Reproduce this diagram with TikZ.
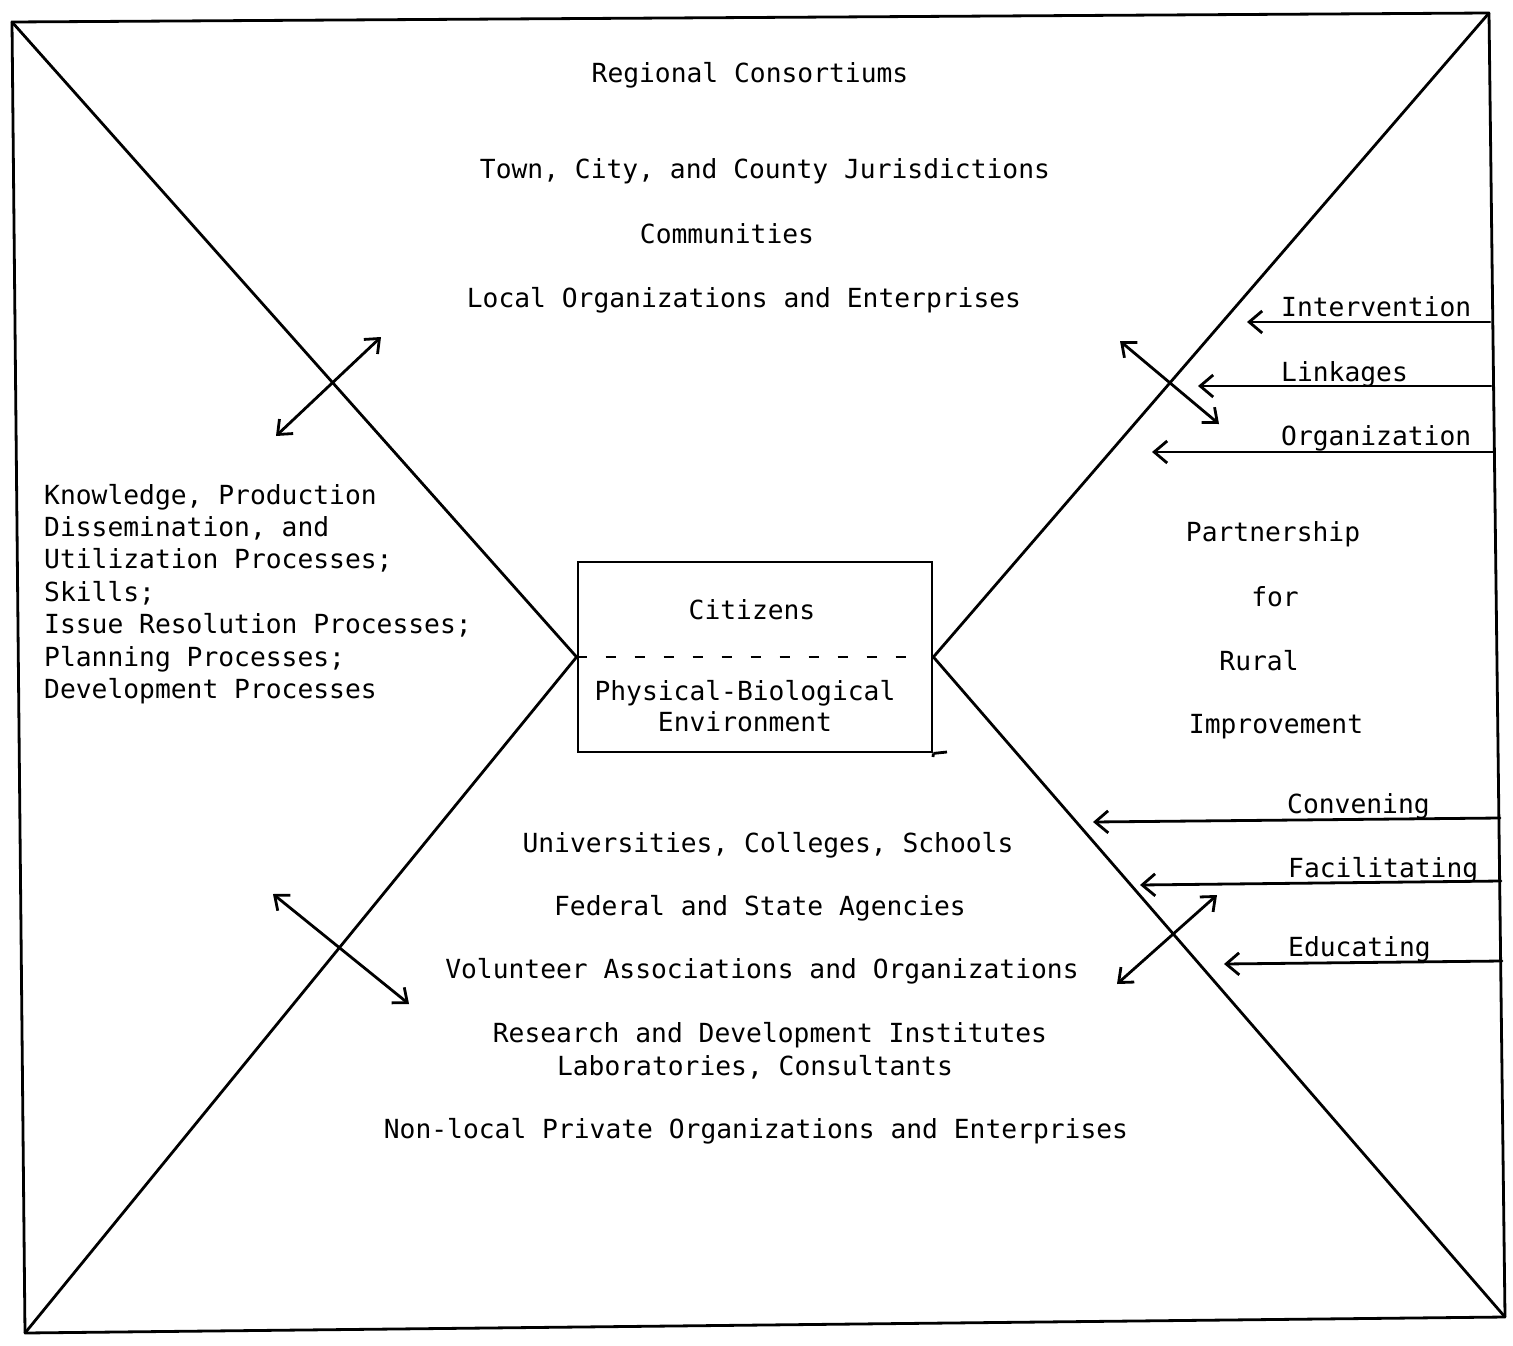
\documentclass[tikz,border=0pt]{standalone}
\usepackage{fontspec}
\newfontfamily\typew{DejaVu Sans Mono}
\usetikzlibrary{arrows.meta}
\begin{document}
\begin{tikzpicture}[x=1pt,y=-1pt,
  ln/.style={line width=2.8pt,line cap=round,line join=round},
  lbl/.style={font=\typew\fontsize{26.3}{32}\selectfont,inner sep=0pt,anchor=base},
  lblw/.style={lbl,anchor=base west},
  barb/.style={ln,-{Straight Barb[length=13pt,width=22pt]}},
  dbl/.style={ln,{Straight Barb[length=12pt,width=20pt]}-{Straight Barb[length=12pt,width=20pt]}}]
\useasboundingbox (0,0) rectangle (1513,1346);
% frame corners
\coordinate (TL) at (12,22);
\coordinate (TR) at (1489,13);
\coordinate (BR) at (1505,1317);
\coordinate (BL) at (25,1333);
\draw[ln] (TL) -- (TR) -- (BR) -- (BL) -- cycle;
% central box
\node[draw,line width=2.8pt,minimum width=354pt,minimum height=190pt,inner sep=0pt] (box) at (755,657) {};
\coordinate (dashend) at (912,657);
\draw[line width=2.6pt,dash pattern=on 10pt off 19pt] (box.west) -- (dashend);
\coordinate (boxtail) at (947,752);
\coordinate (boxdrop) at (933,757);
\draw[line width=2.8pt] (box.south east) -- (boxtail);
\draw[line width=2.8pt] (box.south east) -- (boxdrop);
\node[lbl] (citizens) at (752,619) {Citizens};
\node[lbl] (phys) at (745,700) {Physical-Biological};
\node[lbl] (env) at (745,731) {Environment};
% diagonals
\draw[ln] (TL) -- (box.west) -- (BL);
\draw[ln] (TR) -- (box.east) -- (BR);
% top texts
\node[lbl] (regional) at (750,82) {Regional Consortiums};
\node[lbl] (town) at (765,178) {Town, City, and County Jurisdictions};
\node[lbl] (comm) at (727,243) {Communities};
\node[lbl] (localorg) at (744,307) {Local Organizations and Enterprises};
% left block
\node[lblw] (k1) at (44,504) {Knowledge, Production};
\node[lblw] (k2) at (44,536) {Dissemination, and};
\node[lblw] (k3) at (44,568) {Utilization Processes;};
\node[lblw] (k4) at (44,601) {Skills;};
\node[lblw] (k5) at (44,633) {Issue Resolution Processes;};
\node[lblw] (k6) at (44,666) {Planning Processes;};
\node[lblw] (k7) at (44,698) {Development Processes};
% right block
\node[lbl] (part) at (1273,541) {Partnership};
\node[lbl] (for) at (1275,606) {for};
\node[lbl] (rural) at (1259,670) {Rural};
\node[lbl] (impr) at (1276,733) {Improvement};
% bottom texts
\node[lbl] (univ) at (768,852) {Universities, Colleges, Schools};
\node[lbl] (fed) at (760,915) {Federal and State Agencies};
\node[lbl] (vol) at (762,978) {Volunteer Associations and Organizations};
\node[lbl] (res) at (770,1042) {Research and Development Institutes};
\node[lbl] (lab) at (755,1075) {Laboratories, Consultants};
\node[lbl] (nonlocal) at (756,1138) {Non-local Private Organizations and Enterprises};
% right labels and arrows
\node[lblw] (interv) at (1281,316) {Intervention};
\coordinate (i0) at (1490,322); \coordinate (i1) at (1247,322);
\draw[barb] (i0) -- (i1);
\node[lblw] (link) at (1281,381) {Linkages};
\coordinate (l0) at (1491,386); \coordinate (l1) at (1198,386);
\draw[barb] (l0) -- (l1);
\node[lblw] (orgn) at (1281,445) {Organization};
\coordinate (o0) at (1493,452); \coordinate (o1) at (1152,452);
\draw[barb] (o0) -- (o1);
\node[lblw] (conv) at (1287,813) {Convening};
\coordinate (c0) at (1500,818); \coordinate (c1) at (1093,822);
\draw[barb] (c0) -- (c1);
\node[lblw] (facil) at (1288,877) {Facilitating};
\coordinate (f0) at (1501,881); \coordinate (f1) at (1140,885);
\draw[barb] (f0) -- (f1);
\node[lblw] (educ) at (1288,956) {Educating};
\coordinate (e0) at (1502,961); \coordinate (e1) at (1224,964);
\draw[barb] (e0) -- (e1);
% double arrows
\coordinate (tla) at (381,337); \coordinate (tlb) at (276,436);
\draw[dbl] (tla) -- (tlb);
\coordinate (bla) at (273,894); \coordinate (blb) at (409,1004);
\draw[dbl] (bla) -- (blb);
\coordinate (tra) at (1120,341); \coordinate (trb) at (1219,424);
\draw[dbl] (tra) -- (trb);
\coordinate (bra) at (1217,895); \coordinate (brb) at (1117,984);
\draw[dbl] (bra) -- (brb);
\end{tikzpicture}
\end{document}
